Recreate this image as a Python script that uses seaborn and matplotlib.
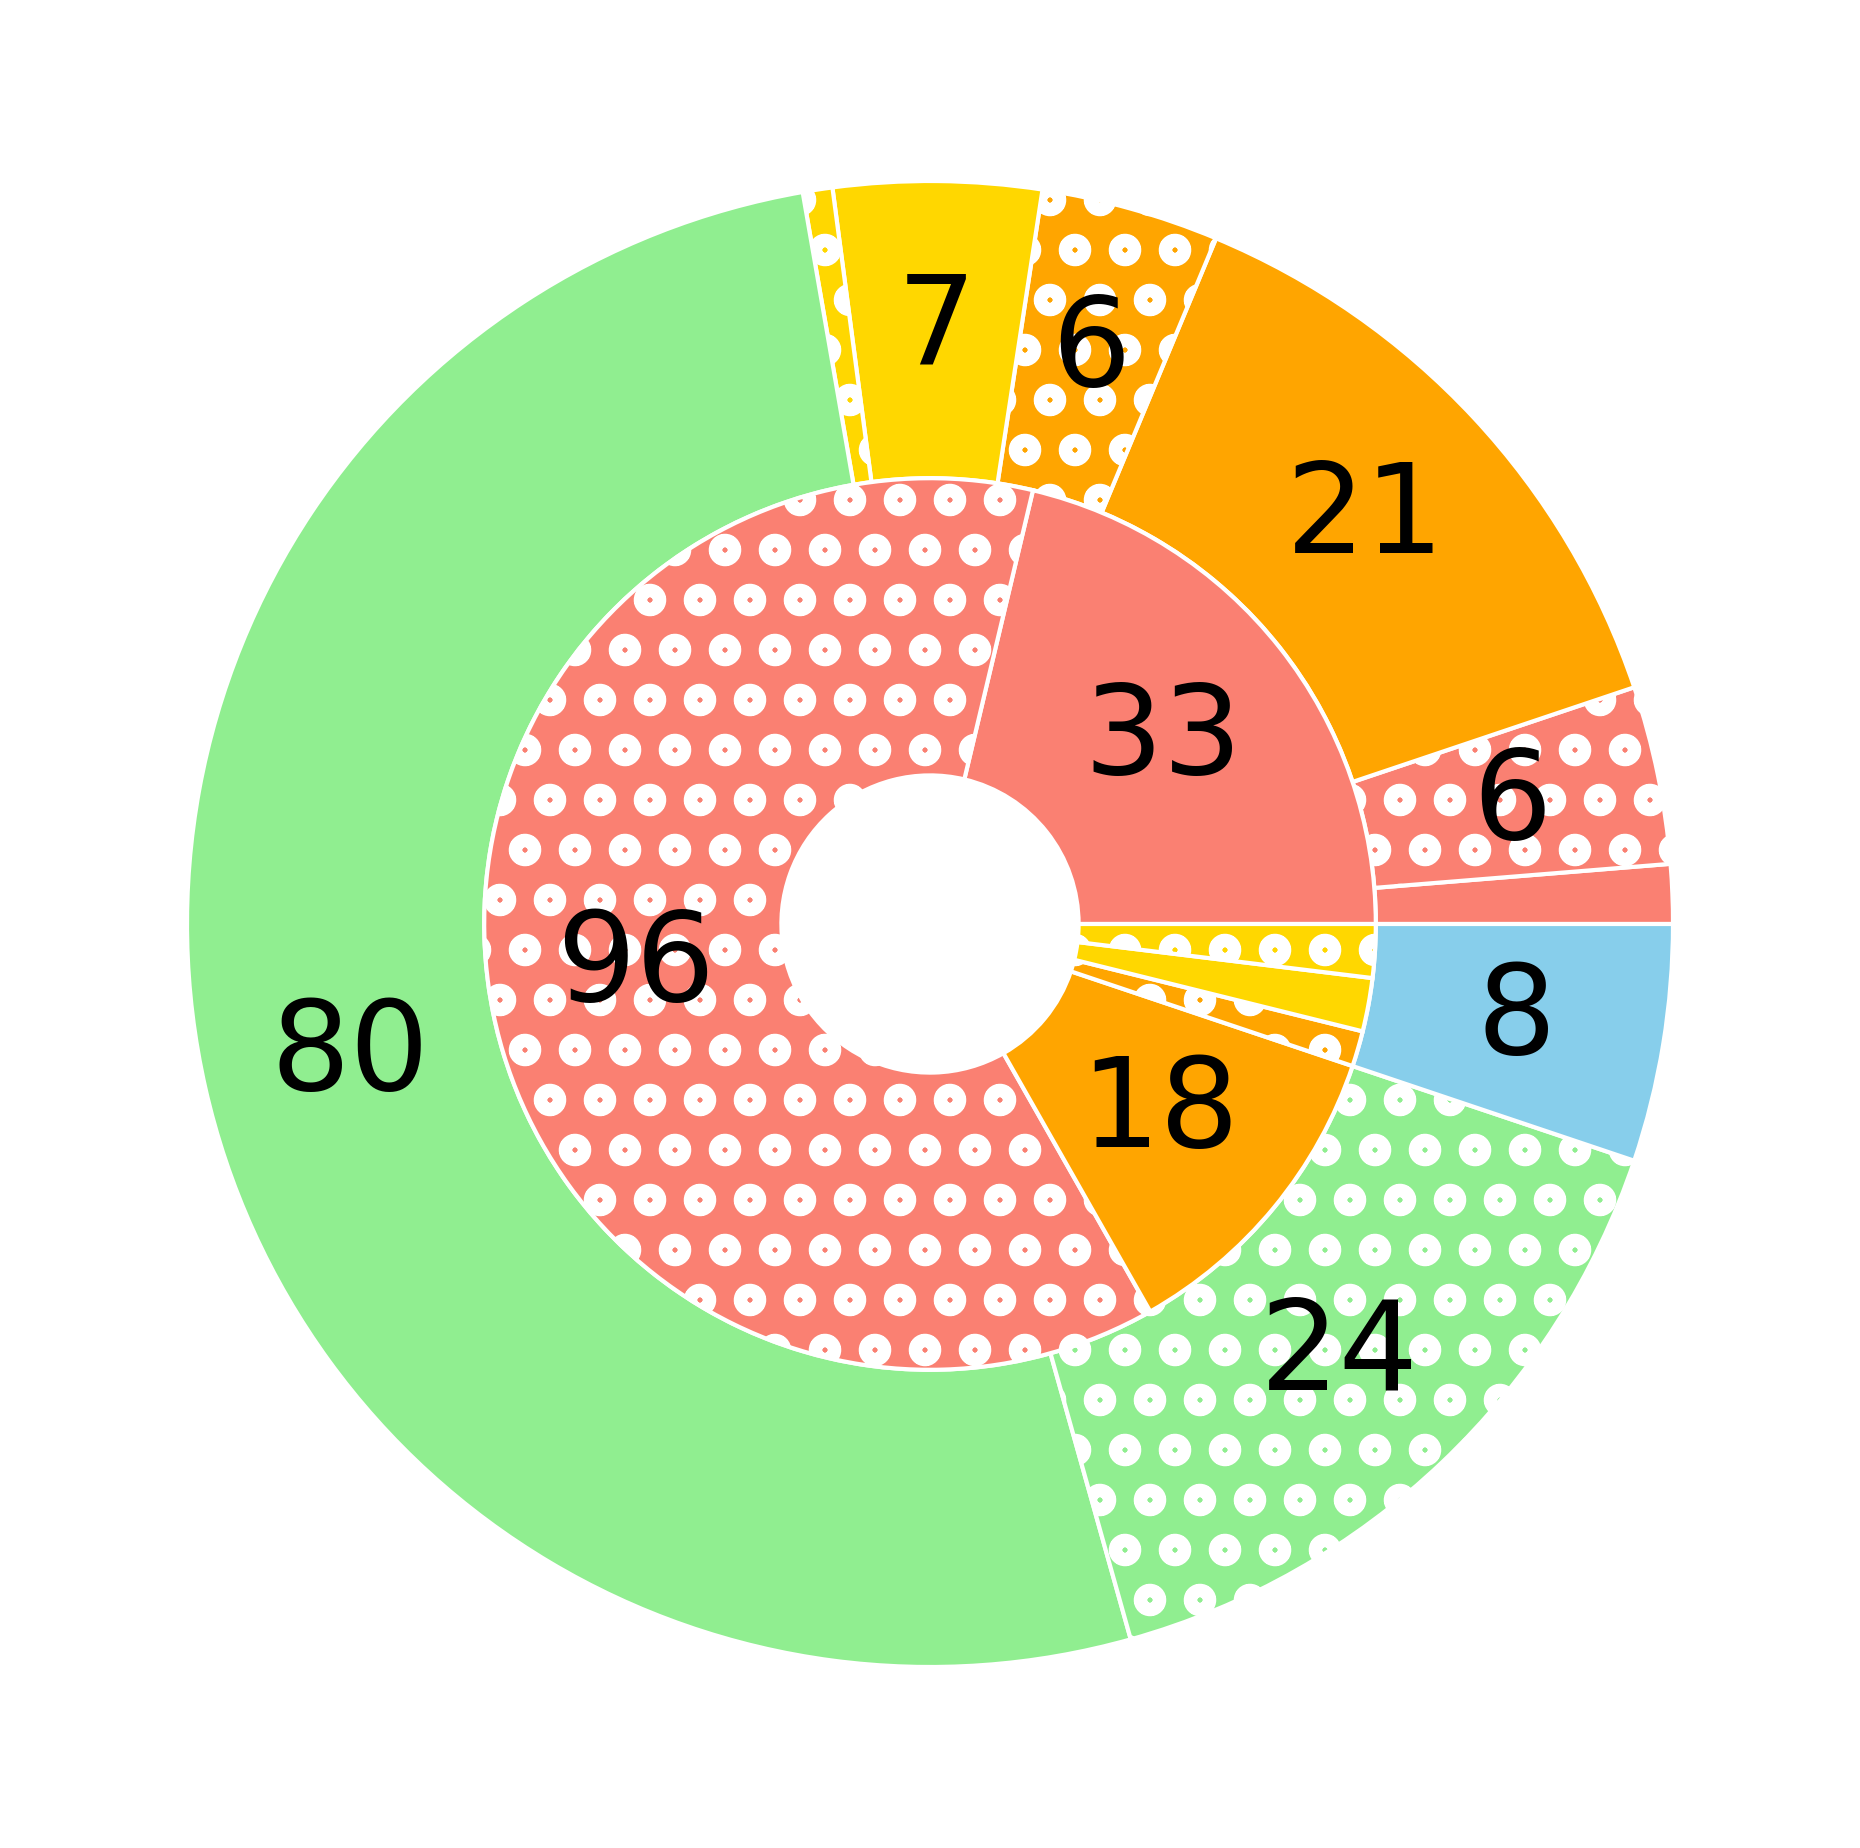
import matplotlib
matplotlib.use('Agg')
import matplotlib.pyplot as plt
import seaborn as sns

sns.set_style('white')
plt.rcParams['hatch.linewidth'] = 3

# outer ring, counterclockwise from 0 degrees
outer_values = [2, 6, 21, 6, 7, 1, 80, 24, 8]
outer_colors = ['salmon', 'salmon', 'orange', 'orange', 'gold', 'gold',
                'lightgreen', 'lightgreen', 'skyblue']
outer_hatches = ['', 'o', '', 'o', '', 'o', '', 'o', '']

# inner ring
inner_values = [33, 96, 18, 2, 3, 3]
inner_colors = ['salmon', 'salmon', 'orange', 'orange', 'gold', 'gold']
inner_hatches = ['', 'o', '', 'o', '', 'o']


def make_label(values):
    total = sum(values)

    def fmt(p):
        return f'{p * total / 100:.0f}' if p > 3 else ''
    return fmt


fig = plt.figure(figsize=(6.2, 6.16), dpi=300)
ax = fig.add_axes([0, 0, 1, 1])

wedge_style = dict(width=0.4, edgecolor='white', linewidth=1)
text_style = dict(fontsize=30, color='black')

ax.pie(outer_values, radius=1.0, colors=outer_colors, hatch=outer_hatches,
       startangle=0, wedgeprops=wedge_style, autopct=make_label(outer_values),
       pctdistance=0.8, textprops=text_style)
ax.pie(inner_values, radius=0.6, colors=inner_colors, hatch=inner_hatches,
       startangle=0, wedgeprops=wedge_style, autopct=make_label(inner_values),
       pctdistance=0.4 / 0.6, textprops=text_style)

ax.set_xlim(-1.2517, 1.2517)
ax.set_ylim(-1.2436, 1.2436)
ax.set_aspect('equal')
ax.axis('off')

fig.savefig('out.png', dpi=300)
